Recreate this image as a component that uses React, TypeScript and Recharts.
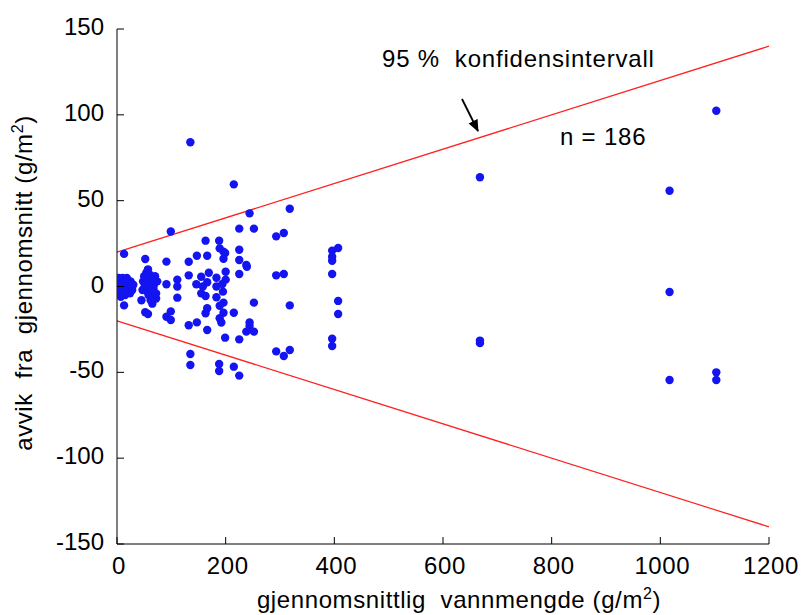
import React from "react";
import {
  ScatterChart,
  Scatter,
  XAxis,
  YAxis,
  ReferenceLine,
} from "recharts";

// Deviation from the mean vs. mean water amount (g/m²)
const pointsNearZero = [
  { x: 0, y: 3 }, { x: 0, y: -1 }, { x: 2, y: -4 }, { x: 3, y: 5 }, { x: 4, y: 1 },
  { x: 5, y: -2 }, { x: 6, y: 4 }, { x: 7, y: -6 }, { x: 8, y: 2 }, { x: 9, y: -1 },
  { x: 10, y: 5 }, { x: 11, y: -3 }, { x: 12, y: 0 }, { x: 14, y: 3 }, { x: 15, y: -5 },
  { x: 16, y: 1 }, { x: 17, y: -2 }, { x: 18, y: 5 }, { x: 20, y: -1 }, { x: 22, y: 2 },
  { x: 24, y: -4 }, { x: 25, y: 3 }, { x: 27, y: 0 }, { x: 28, y: -2 }, { x: 30, y: 1 },
  { x: 13, y: 19 }, { x: 13, y: -11 }, { x: 4, y: -3 }, { x: 19, y: 3 }, { x: 1, y: 1 },
];

const pointsLow = [
  { x: 45, y: -8 }, { x: 48, y: 3 }, { x: 50, y: -1 }, { x: 52, y: 16 }, { x: 52, y: -15 },
  { x: 54, y: 8 }, { x: 55, y: 5 }, { x: 56, y: -3 }, { x: 57, y: 10 }, { x: 58, y: 0 },
  { x: 58, y: -5 }, { x: 60, y: 2 }, { x: 60, y: 7 }, { x: 62, y: -2 }, { x: 64, y: 4 },
  { x: 65, y: -10 }, { x: 66, y: -6 }, { x: 68, y: 1 }, { x: 70, y: 6 }, { x: 72, y: -4 },
  { x: 72, y: -7 }, { x: 74, y: 3 }, { x: 57, y: -16 }, { x: 47, y: -2 }, { x: 50, y: 6 },
  { x: 62, y: -8 }, { x: 53, y: 1 }, { x: 67, y: -1 },
  { x: 91, y: 14.5 }, { x: 91, y: 1.3 }, { x: 91, y: -17.6 }, { x: 99, y: 32 },
  { x: 99, y: -14.5 }, { x: 99, y: -19.5 }, { x: 111, y: 4 }, { x: 111, y: 0 }, { x: 111, y: -6.5 },
];

const pointsMid = [
  { x: 135, y: 84 }, { x: 215, y: 59.5 }, { x: 244, y: 42.6 }, { x: 318, y: 45.3 },
  { x: 225, y: 33.7 }, { x: 252, y: 33.7 }, { x: 293, y: 29.2 }, { x: 307, y: 31.2 },
  { x: 163, y: 26.7 }, { x: 188, y: 26.7 }, { x: 189, y: 22.2 }, { x: 196, y: 20.3 },
  { x: 199, y: 19.5 }, { x: 196, y: 16.2 }, { x: 147, y: 17.9 }, { x: 166, y: 17.9 },
  { x: 225, y: 21.4 }, { x: 225, y: 15.4 }, { x: 238, y: 12.5 }, { x: 239, y: 11.5 },
  { x: 132, y: 14.4 }, { x: 293, y: 6.5 }, { x: 307, y: 7.3 }, { x: 225, y: 7.3 },
  { x: 132, y: 6.5 }, { x: 155, y: 5.7 }, { x: 169, y: 8 }, { x: 183, y: 5.1 },
  { x: 200, y: 8.6 }, { x: 200, y: 4 }, { x: 146, y: 1.3 }, { x: 158, y: 0 },
  { x: 166, y: 2.5 }, { x: 183, y: 0 }, { x: 194, y: 1.5 }, { x: 195, y: -3 },
  { x: 155, y: -4 }, { x: 183, y: -6.3 }, { x: 163, y: -5.5 }, { x: 196, y: -9.4 },
  { x: 252, y: -9.4 }, { x: 318, y: -11 }, { x: 166, y: -12.7 }, { x: 189, y: -11.2 },
  { x: 163, y: -15.6 }, { x: 196, y: -15.3 }, { x: 215, y: -15.3 }, { x: 189, y: -18.5 },
  { x: 192, y: -21 }, { x: 147, y: -20.9 }, { x: 132, y: -22.6 }, { x: 166, y: -25.3 },
  { x: 244, y: -21 }, { x: 244, y: -23 }, { x: 238, y: -26.3 }, { x: 252, y: -26.3 },
  { x: 199, y: -29.8 }, { x: 225, y: -30.8 }, { x: 293, y: -37.8 }, { x: 307, y: -40.5 },
  { x: 318, y: -37 }, { x: 135, y: -39.3 }, { x: 135, y: -45.7 }, { x: 188, y: -45.1 },
  { x: 188, y: -49.2 }, { x: 215, y: -46.7 }, { x: 225, y: -51.9 },
];

const pointsHigh = [
  { x: 407, y: 22.4 }, { x: 396, y: 20.9 }, { x: 396, y: 17.4 }, { x: 396, y: 15 },
  { x: 396, y: 7.3 }, { x: 407, y: -8.4 }, { x: 407, y: -16 }, { x: 396, y: -30.4 },
  { x: 396, y: -34.7 }, { x: 668, y: 63.6 }, { x: 668, y: -33 }, { x: 668, y: -31.5 },
  { x: 1017, y: 55.8 }, { x: 1017, y: -3.2 }, { x: 1017, y: -54.5 },
  { x: 1103, y: 102.4 }, { x: 1103, y: -50 }, { x: 1103, y: -54.5 },
];

// 95 % confidence band edges
const upperBand = [{ x: 0, y: 20 }, { x: 1200, y: 140 }];
const lowerBand = [{ x: 0, y: -20 }, { x: 1200, y: -140 }];

const xTicks = [0, 200, 400, 600, 800, 1000, 1200];
const yTicks = [-150, -100, -50, 0, 50, 100, 150];

const allPoints = [...pointsNearZero, ...pointsLow, ...pointsMid, ...pointsHigh];

const FONT = "'Liberation Sans', Arial, sans-serif";
const DOT = "#1414f0";

const YTick = (props: any) => {
  const { x, y, payload } = props;
  return (
    <g>
      <line x1={x} x2={x + 7} y1={y} y2={y} stroke="#000" strokeWidth={1} />
      <text x={x - 13} y={y + 6} textAnchor="end" fontSize={24} fontFamily={FONT} fill="#000">
        {payload.value}
      </text>
    </g>
  );
};

const XTick = (props: any) => {
  const { x, y, payload } = props;
  return (
    <g>
      <line x1={x} x2={x} y1={y} y2={y - 7} stroke="#000" strokeWidth={1} />
      <text
        x={x + 2}
        y={y + 30}
        textAnchor="middle"
        fontSize={24}
        letterSpacing={0.6}
        fontFamily={FONT}
        fill="#000"
      >
        {payload.value}
      </text>
    </g>
  );
};

const YTitle = () => {
  const cy = 283;
  const cx = 32;
  return (
    <text
      x={cx}
      y={cy}
      transform={`rotate(-90 ${cx} ${cy})`}
      textAnchor="middle"
      fontSize={24}
      letterSpacing={0.6}
      fontFamily={FONT}
      fill="#000"
    >
      {"avvik\u00a0\u00a0fra\u00a0\u00a0gjennomsnitt (g/m"}
      <tspan fontSize={16} dy={-9}>2</tspan>
      <tspan dy={9}>)</tspan>
    </text>
  );
};

const XTitle = () => {
  return (
    <text
      x={459}
      y={608}
      textAnchor="middle"
      fontSize={24}
      letterSpacing={0.6}
      fontFamily={FONT}
      fill="#000"
    >
      {"gjennomsnittlig\u00a0\u00a0vannmengde (g/m"}
      <tspan fontSize={16} dy={-9}>2</tspan>
      <tspan dy={9}>)</tspan>
    </text>
  );
};

const dotShape = (props: any) => {
  const { cx, cy } = props;
  return <circle cx={cx} cy={cy} r={4.2} fill={DOT} />;
};

export default function App() {
  return (
    <div style={{ position: "absolute", left: 0, top: 0, width: 806, height: 615, background: "#fff" }}>
      <ScatterChart
        width={806}
        height={615}
        margin={{ top: 29, right: 37, bottom: 31, left: 57 }}
      >
        <XAxis
          type="number"
          dataKey="x"
          domain={[0, 1200]}
          ticks={xTicks}
          tickSize={0}
          tickMargin={0}
          tickLine={false}
          height={40}
          stroke="#000"
          tick={<XTick />}
          label={{ content: <XTitle /> }}
          allowDataOverflow
        />
        <YAxis
          type="number"
          dataKey="y"
          domain={[-150, 150]}
          ticks={yTicks}
          tickSize={0}
          tickMargin={0}
          tickLine={false}
          width={60}
          stroke="#000"
          tick={<YTick />}
          label={{ content: <YTitle /> }}
          allowDataOverflow
        />
        <ReferenceLine
          segment={upperBand}
          stroke="#ff2020"
          strokeWidth={1.2}
          ifOverflow="visible"
        />
        <ReferenceLine
          segment={lowerBand}
          stroke="#ff2020"
          strokeWidth={1.2}
          ifOverflow="visible"
        />
        <Scatter data={allPoints} shape={dotShape} isAnimationActive={false} />
      </ScatterChart>
      <svg
        width={806}
        height={615}
        style={{ position: "absolute", left: 0, top: 0, pointerEvents: "none" }}
      >
        <defs>
          <marker id="arrowHead" markerWidth="12" markerHeight="12" refX="11" refY="6" orient="auto" markerUnits="userSpaceOnUse">
            <path d="M0,1 L12,6 L0,11 Z" fill="#000" />
          </marker>
        </defs>
        <text x={382} y={67} fontSize={24} letterSpacing={0.8} fontFamily={FONT} fill="#000">
          {"95\u00a0%\u00a0\u00a0konfidensintervall"}
        </text>
        <line x1={462} y1={99} x2={478} y2={131} stroke="#000" strokeWidth={1.8} markerEnd="url(#arrowHead)" />
        <text x={560} y={145} fontSize={24} letterSpacing={0.8} fontFamily={FONT} fill="#000">
          n = 186
        </text>
      </svg>
    </div>
  );
}
